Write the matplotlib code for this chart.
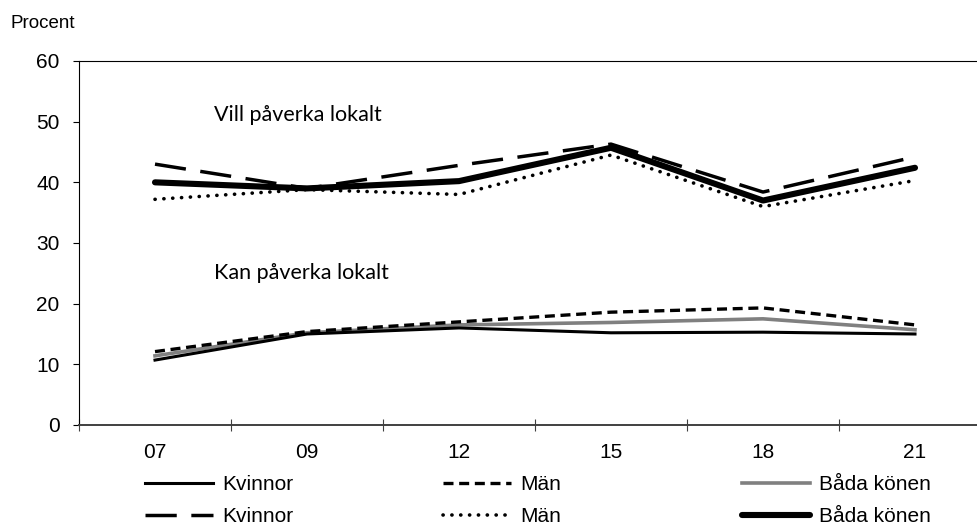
"""
Andel som vill / kan påverka lokalt, efter kön
"""
import numpy as np
import matplotlib
matplotlib.use("Agg")
import matplotlib.pyplot as plt
from matplotlib.lines import Line2D

# data
years = ["07", "09", "12", "15", "18", "21"]

vill_kvinnor = [43.0, 39.0, 42.8, 46.3, 38.4, 44.2]
vill_man = [37.2, 38.8, 38.0, 44.5, 36.0, 40.3]
vill_bada = [40.0, 39.0, 40.2, 45.7, 37.0, 42.4]

kan_kvinnor = [10.7, 15.0, 16.0, 15.2, 15.3, 15.0]
kan_man = [12.1, 15.4, 17.0, 18.6, 19.3, 16.5]
kan_bada = [11.4, 15.2, 16.5, 16.9, 17.5, 15.7]

plt.rcParams["font.family"] = ["Liberation Sans", "DejaVu Sans"]
plt.rcParams["font.size"] = 15

fig = plt.figure(figsize=(9.77, 5.24), dpi=100)
ax = fig.add_axes([79 / 977, 1 - 425 / 524, 912 / 977, 364 / 524])

x = np.arange(len(years))

# stilar
st_kan_k = dict(color="black", lw=2.2, ls="-")
st_kan_m = dict(color="black", lw=2.4, ls=(0, (3.0, 1.7)))
st_kan_b = dict(color="#808080", lw=2.6, ls="-")
st_vill_k = dict(color="black", lw=2.5, ls=(0, (9.0, 4.2)))
st_vill_m = dict(color="black", lw=2.6, ls=(0, (0.05, 2.4)), dash_capstyle="round")
st_vill_b = dict(color="black", lw=4.4, ls="-", solid_capstyle="round")

ax.plot(x, kan_bada, **st_kan_b)
ax.plot(x, kan_kvinnor, **st_kan_k)
ax.plot(x, kan_man, **st_kan_m)
ax.plot(x, vill_man, **st_vill_m)
ax.plot(x, vill_kvinnor, **st_vill_k)
ax.plot(x, vill_bada, **st_vill_b)

ax.set_xlim(-0.5, len(years) - 0.5)
ax.set_ylim(0, 60)
ax.set_yticks(np.arange(0, 61, 10))

ax.set_xticks(np.arange(-0.5, len(years), 1))
ax.set_xticklabels([])
ax.set_xticks(x, minor=True)
ax.set_xticklabels(years, minor=True)
ax.tick_params(axis="x", which="major", direction="inout", length=9, width=0.8,
               color="#404040")
ax.tick_params(axis="x", which="minor", length=0, pad=13)
ax.tick_params(axis="y", direction="out", length=4, width=0.8, pad=10)

for s in ["left", "top", "right"]:
    ax.spines[s].set_linewidth(0.8)
    ax.spines[s].set_color("black")
ax.spines["bottom"].set_linewidth(1.4)
ax.spines["bottom"].set_color("#404040")

fig.text(10 / 977, 1 - 23 / 524, "Procent", fontsize=13.5, va="center", ha="left")

ax.text(0.39, 51.1, "Vill påverka lokalt", family=["Lato", "DejaVu Sans"],
        fontsize=15.5, va="center", ha="left")
ax.text(0.39, 25.0, "Kan påverka lokalt", family=["Lato", "DejaVu Sans"],
        fontsize=15.5, va="center", ha="left")

# förklaring, tre kolumner
columns = [
    (145, [st_kan_k, st_vill_k], ["Kvinnor", "Kvinnor"]),
    (443, [st_kan_m, st_vill_m], ["Män", "Män"]),
    (742, [st_kan_b, st_vill_b], ["Båda könen", "Båda könen"]),
]
for xpos, styles, labels in columns:
    handles = [Line2D([], [], **s) for s in styles]
    fig.legend(handles, labels, loc="upper left",
               bbox_to_anchor=(xpos / 977, 1 - 475 / 524),
               frameon=False, borderpad=0, borderaxespad=0,
               handlelength=3.27, handletextpad=0.43, labelspacing=0.62,
               fontsize=15)

fig.savefig("out.png", dpi=100)
